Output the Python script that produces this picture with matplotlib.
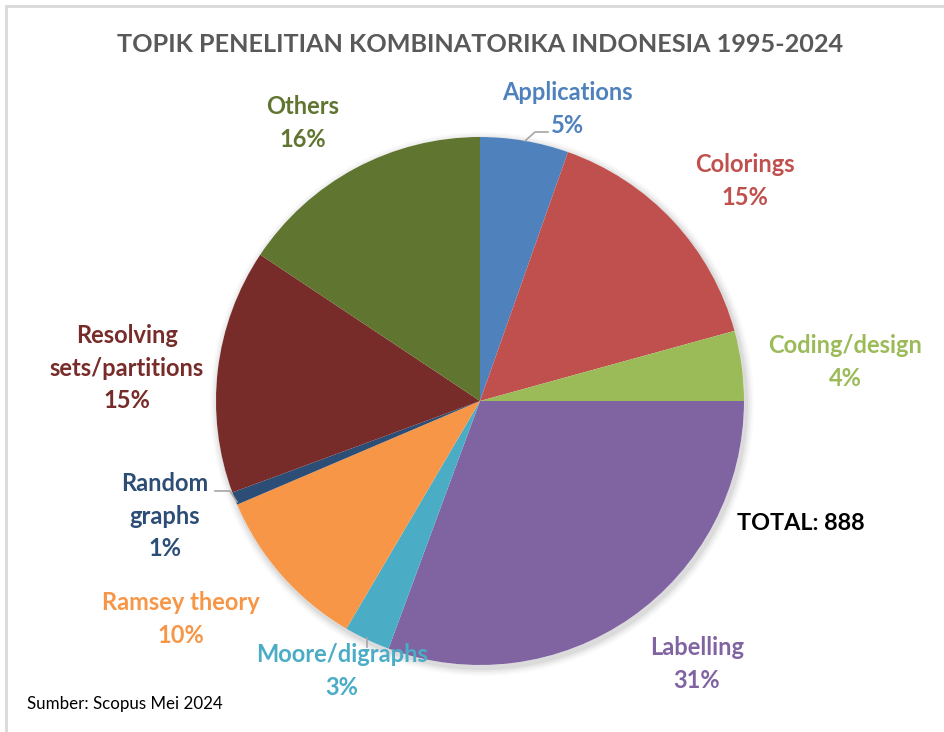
import numpy as np
import matplotlib.pyplot as plt
from matplotlib.patches import Circle

plt.rcParams['font.family'] = ['Lato', 'DejaVu Sans']

# research topics, Scopus, May 2024
topics = ['Applications', 'Colorings', 'Coding/design', 'Labelling',
          'Moore/digraphs', 'Ramsey theory', 'Random\ngraphs',
          'Resolving\nsets/partitions', 'Others']
counts = [48, 136, 38, 272, 25, 90, 7, 133, 139]
colors = ['#4F81BD', '#C0504D', '#9BBB59', '#8064A2', '#4BACC6',
          '#F79646', '#2C4D75', '#772C2A', '#5F7530']

# label block centres (pixels from bottom-left)
label_xy = [(567, 623), (745, 551), (845, 370), (697, 68),
            (342, 61), (181, 113), (165, 216), (127, 364), (303, 609)]

W, H = 944, 732
cx, cy, r = 480, 331, 264

fig = plt.figure(figsize=(W / 100, H / 100), dpi=100, facecolor='white')
ax = fig.add_axes([0, 0, 1, 1])

# soft shadow under the pie
for i, a in enumerate([0.05, 0.04, 0.03, 0.02]):
    ax.add_patch(Circle((cx + 2, cy - 3), r + 2 + i * 2, color='black',
                        alpha=a, lw=0, zorder=0))
ax.add_patch(Circle((cx, cy), r, color='white', lw=0, zorder=0.5))

ax.pie(counts, colors=colors, startangle=90, counterclock=False,
       center=(cx, cy), radius=r, frame=True,
       wedgeprops=dict(linewidth=0), normalize=True)
ax.set_xlim(0, W)
ax.set_ylim(0, H)
ax.set_aspect('equal')
ax.axis('off')

total = sum(counts)
for name, n, col, (x, y) in zip(topics, counts, colors, label_xy):
    pct = round(100 * n / total)
    ax.text(x, y, f'{name}\n{pct}%', ha='center', va='center', color=col,
            fontsize=17, fontweight='bold', linespacing=1.5, zorder=5)

# leader lines
lc = '#A6A6A6'
ax.plot([525, 535, 548], [591, 600, 600], color=lc, lw=1.2, zorder=4)
ax.plot([215, 230, 237], [241, 241, 230], color=lc, lw=1.2, zorder=4)
ax.plot([367, 367], [94, 85], color=lc, lw=1.2, zorder=4)

ax.text(801, 209, f'TOTAL: {total}', ha='center', va='center',
        color='black', fontsize=16.8, fontweight='bold')
ax.text(480, 687, 'TOPIK PENELITIAN KOMBINATORIKA INDONESIA 1995-2024',
        ha='center', va='center', color='#595959', fontsize=18.2,
        fontweight='bold')
ax.text(27, 28, 'Sumber: Scopus Mei 2024', ha='left', va='center',
        color='black', fontsize=12.2)

# chart frame
ax.plot([6, 6, W], [0, H - 6, H - 6], color='#D9D9D9', lw=2,
        solid_joinstyle='miter')

fig.savefig('out.png', dpi=100, facecolor='white')
